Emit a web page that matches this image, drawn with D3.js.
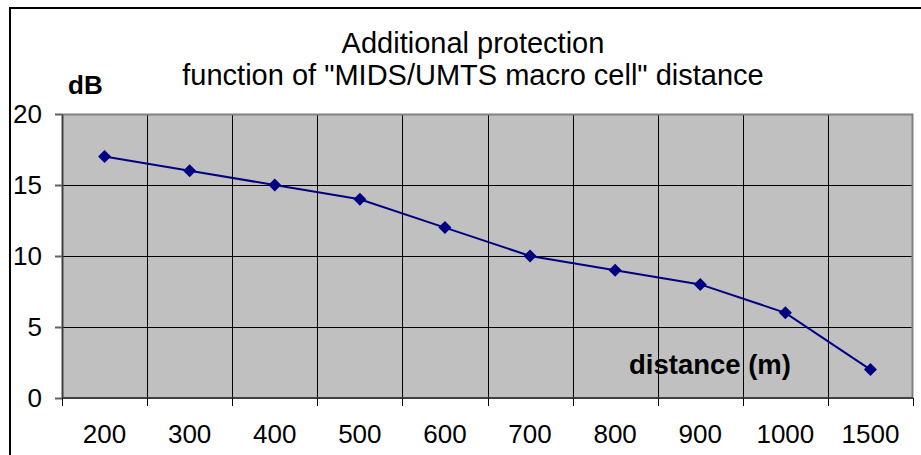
<!DOCTYPE html>
<html>
<head>
<meta charset="utf-8">
<script src="https://cdn.jsdelivr.net/npm/d3@7"></script>
<style>
  html, body { margin: 0; padding: 0; background: #fff; }
  svg { display: block; font-family: "Liberation Sans", Arial, sans-serif; }
</style>
</head>
<body>
<svg id="chart" width="921" height="455"></svg>
<script>
// Distance categories (m) and the additional protection needed (dB)
const distances = ["200", "300", "400", "500", "600", "700", "800", "900", "1000", "1500"];
const protectionDb = [17, 16, 15, 14, 12, 10, 9, 8, 6, 2];
const yTicks = [0, 5, 10, 15, 20];
const titleLines = ["Additional protection", "function of \"MIDS/UMTS macro cell\" distance"];

const svg = d3.select("#chart");
const W = 921, H = 455;
const plot = { left: 62, right: 913, top: 114, bottom: 398 };

// outer chart frame
svg.append("rect")
  .attr("x", 10).attr("y", 8)
  .attr("width", W + 10).attr("height", H + 10)
  .attr("fill", "#fff").attr("stroke", "#000").attr("stroke-width", 2);

const x = d3.scaleBand().domain(distances).range([plot.left, plot.right]).padding(0);
const y = d3.scaleLinear().domain([0, 20]).range([plot.bottom, plot.top]);

// plot area background
svg.append("rect")
  .attr("x", plot.left).attr("y", plot.top)
  .attr("width", plot.right - plot.left).attr("height", plot.bottom - plot.top)
  .attr("fill", "#c0c0c0");

// category boundaries (gridlines + ticks sit between categories)
const bounds = distances.map(d => x(d)).concat([plot.right]);

const grid = svg.append("g");
grid.selectAll("line.v").data(bounds.slice(1, -1)).join("line")
  .attr("x1", d => Math.round(d) + 0.5).attr("x2", d => Math.round(d) + 0.5)
  .attr("y1", plot.top).attr("y2", plot.bottom)
  .attr("stroke", "#000").attr("stroke-width", 1);
grid.selectAll("line.h").data(yTicks.filter(t => t > 0 && t < 20)).join("line")
  .attr("x1", plot.left).attr("x2", plot.right)
  .attr("y1", d => Math.round(y(d)) + 0.5).attr("y2", d => Math.round(y(d)) + 0.5)
  .attr("stroke", "#000").attr("stroke-width", 1);

// plot area top/right border
svg.append("path")
  .attr("d", `M${plot.left},${plot.top + 0.5}H${plot.right - 0.5}V${plot.bottom}`)
  .attr("fill", "none").attr("stroke", "#808080").attr("stroke-width", 2);

// y axis
const yAxis = svg.append("g")
  .attr("transform", `translate(${plot.left},0)`)
  .call(d3.axisLeft(y).tickValues(yTicks).tickSize(7).tickSizeOuter(0).tickPadding(13));
yAxis.select(".domain").attr("stroke", "#404040").attr("stroke-width", 2);
yAxis.selectAll(".tick line").attr("stroke", "#606060").attr("stroke-width", 2);
yAxis.selectAll(".tick text").attr("font-size", 26).attr("fill", "#000")
  .attr("font-family", "Liberation Sans, Arial, sans-serif");

// x axis: labels centred on categories, ticks on category boundaries
const xAxis = svg.append("g").attr("transform", `translate(0,${plot.bottom})`);
xAxis.append("line")
  .attr("x1", plot.left).attr("x2", plot.right)
  .attr("stroke", "#404040").attr("stroke-width", 2);
xAxis.selectAll("line.tk").data(bounds).join("line")
  .attr("x1", d => Math.round(d) + 0.5).attr("x2", d => Math.round(d) + 0.5)
  .attr("y1", 0).attr("y2", 8)
  .attr("stroke", "#000").attr("stroke-width", 1);
xAxis.selectAll("text").data(distances).join("text")
  .attr("x", d => x(d) + x.bandwidth() / 2)
  .attr("y", 45)
  .attr("text-anchor", "middle")
  .attr("font-size", 26).attr("fill", "#000")
  .text(d => d);

// data line and diamond markers
const pts = distances.map((d, i) => [x(d) + x.bandwidth() / 2, y(protectionDb[i])]);
svg.append("path")
  .attr("d", d3.line()(pts))
  .attr("fill", "none").attr("stroke", "#000080").attr("stroke-width", 2);
svg.append("g").selectAll("path").data(pts).join("path")
  .attr("transform", d => `translate(${d[0]},${d[1]})`)
  .attr("d", "M0,-6.5L6.5,0L0,6.5L-6.5,0Z")
  .attr("fill", "#000080");

// titles
svg.append("g").selectAll("text").data(titleLines).join("text")
  .attr("x", 473).attr("y", (d, i) => 53 + i * 32)
  .attr("text-anchor", "middle")
  .attr("font-size", 29).attr("fill", "#000")
  .text(d => d);

// axis titles
svg.append("text").attr("x", 68).attr("y", 94)
  .attr("font-size", 26).attr("font-weight", "bold").text("dB");
svg.append("text").attr("x", 629).attr("y", 374)
  .attr("font-size", 27.5).attr("font-weight", "bold").text("distance (m)");
</script>
</body>
</html>
